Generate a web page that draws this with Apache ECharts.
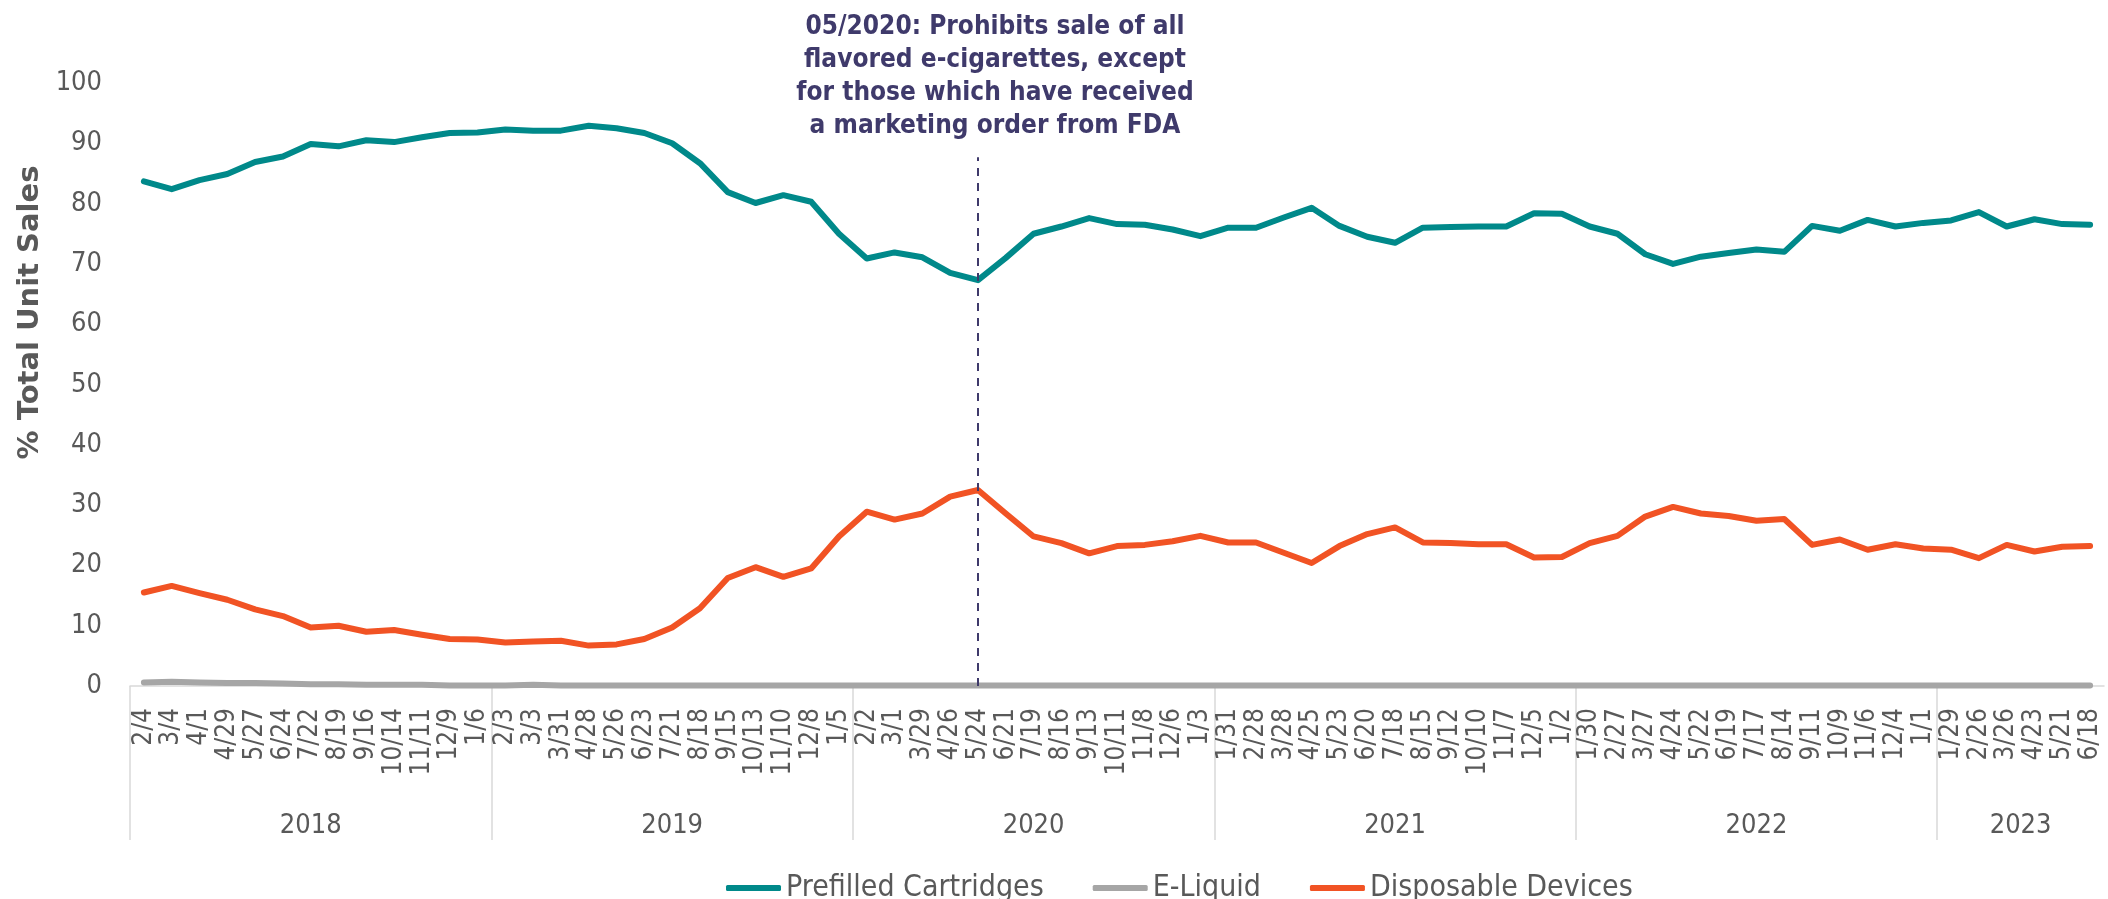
<!DOCTYPE html>
<html lang="en">
<head>
    <meta charset="UTF-8">
    <title>E-cigarette unit sales share</title>
    <style>
        html, body { margin: 0; padding: 0; background: #fff; }
        #chart { width: 2108px; height: 899px; }
    </style>
    <script src="https://cdn.jsdelivr.net/npm/echarts@6/dist/echarts.min.js"></script>
</head>
<body>
    <div id="chart"></div>
<script>
    // 4-week periods, Feb 2018 - Jun 2023
    var dates = ['2/4','3/4','4/1','4/29','5/27','6/24','7/22','8/19','9/16','10/14','11/11','12/9','1/6',
        '2/3','3/3','3/31','4/28','5/26','6/23','7/21','8/18','9/15','10/13','11/10','12/8','1/5',
        '2/2','3/1','3/29','4/26','5/24','6/21','7/19','8/16','9/13','10/11','11/8','12/6','1/3',
        '1/31','2/28','3/28','4/25','5/23','6/20','7/18','8/15','9/12','10/10','11/7','12/5','1/2',
        '1/30','2/27','3/27','4/24','5/22','6/19','7/17','8/14','9/11','10/9','11/6','12/4','1/1',
        '1/29','2/26','3/26','4/23','5/21','6/18'];
    // year groups on the lower axis and how many periods each holds
    var years = ['2018','2019','2020','2021','2022','2023'];
    var yearCounts = [13, 13, 13, 13, 13, 6];

    var prefilled = [83.7, 82.4, 83.9, 84.9, 86.9, 87.8, 89.9, 89.5, 90.5, 90.2, 91.0, 91.7, 91.8,
        92.3, 92.1, 92.1, 92.9, 92.5, 91.7, 90.0, 86.7, 81.9, 80.1, 81.4, 80.3, 75.0,
        70.9, 71.9, 71.1, 68.5, 67.3, 71.0, 75.0, 76.2, 77.6, 76.6, 76.5, 75.7, 74.6,
        76.0, 76.0, 77.7, 79.3, 76.3, 74.5, 73.5, 76.0, 76.1, 76.2, 76.2, 78.4, 78.3,
        76.2, 75.0, 71.6, 70.0, 71.2, 71.8, 72.4, 72.0, 76.3, 75.5, 77.3, 76.2, 76.8,
        77.2, 78.6, 76.2, 77.4, 76.6, 76.5];
    var eLiquid = [0.6, 0.7, 0.6, 0.5, 0.5, 0.4, 0.3, 0.3, 0.2, 0.2, 0.2, 0.1, 0.1,
        0.1, 0.2, 0.1, 0.1, 0.1, 0.1, 0.1, 0.1, 0.1, 0.1, 0.1, 0.1, 0.1,
        0.1, 0.1, 0.1, 0.1, 0.1, 0.1, 0.1, 0.1, 0.1, 0.1, 0.1, 0.1, 0.1,
        0.1, 0.1, 0.1, 0.1, 0.1, 0.1, 0.1, 0.1, 0.1, 0.1, 0.1, 0.1, 0.1,
        0.1, 0.1, 0.1, 0.1, 0.1, 0.1, 0.1, 0.1, 0.1, 0.1, 0.1, 0.1, 0.1,
        0.1, 0.1, 0.1, 0.1, 0.1, 0.1];
    var disposable = [15.5, 16.6, 15.4, 14.3, 12.7, 11.6, 9.7, 10.0, 9.0, 9.3, 8.5, 7.8, 7.7,
        7.2, 7.4, 7.5, 6.7, 6.9, 7.8, 9.7, 12.9, 17.9, 19.7, 18.1, 19.5, 24.8,
        28.9, 27.6, 28.6, 31.4, 32.5, 28.6, 24.8, 23.7, 22.0, 23.2, 23.4, 24.0, 24.9,
        23.8, 23.8, 22.1, 20.4, 23.2, 25.2, 26.3, 23.8, 23.7, 23.5, 23.5, 21.3, 21.4,
        23.7, 24.9, 28.1, 29.7, 28.6, 28.2, 27.4, 27.7, 23.4, 24.3, 22.6, 23.5, 22.8,
        22.6, 21.2, 23.4, 22.3, 23.1, 23.2];

    // policy note
    var noteDate = '5/24';
    var noteTop = 87.7;
    var noteText = '05/2020: Prohibits sale of all\nflavored e-cigarettes, except\nfor those which have received\na marketing order from FDA';

    var condensed = '"DejaVu Sans Condensed", "DejaVu Sans", sans-serif';
    var textGray = '#595959';

    // group edges and centres for the year axis
    var yearEdges = [], yearMids = [];
    var start = 0;
    for (var i = 0; i < yearCounts.length; i++) {
        yearEdges.push(start);
        yearMids.push(start + yearCounts[i] / 2);
        start += yearCounts[i];
    }

    var chart = echarts.init(document.getElementById('chart'));
    var option = {
        animation: false,
        grid: { left: 130, right: 4, top: 83, bottom: 213, outerBoundsMode: 'none' },
        legend: {
            left: 721,
            top: 868,
            icon: 'roundRect',
            itemWidth: 55,
            itemHeight: 6,
            itemGap: 49,
            textStyle: { fontSize: 30, color: textGray, fontFamily: condensed },
            data: ['Prefilled Cartridges', 'E-Liquid', 'Disposable Devices']
        },
        xAxis: [
            {
                type: 'category',
                data: dates,
                position: 'bottom',
                boundaryGap: true,
                axisLine: { lineStyle: { color: '#D9D9D9', width: 1.5 } },
                axisTick: { show: false },
                axisLabel: {
                    interval: 0,
                    rotate: 90,
                    margin: 22,
                    fontSize: 26,
                    color: textGray,
                    fontFamily: condensed
                },
                splitLine: { show: false }
            },
            {
                type: 'value',
                position: 'bottom',
                min: 0,
                max: dates.length,
                axisLine: { show: false },
                splitLine: { show: false },
                axisTick: {
                    show: true,
                    customValues: yearEdges,
                    length: 154,
                    lineStyle: { color: '#D9D9D9', width: 1.5 }
                },
                axisLabel: {
                    customValues: yearMids,
                    margin: 126,
                    fontSize: 27,
                    color: textGray,
                    fontFamily: condensed,
                    formatter: function (v) {
                        var k = yearMids.indexOf(v);
                        return k >= 0 ? years[k] : '';
                    }
                }
            }
        ],
        yAxis: {
            type: 'value',
            min: 0,
            max: 100,
            interval: 10,
            name: '% Total Unit Sales',
            nameLocation: 'middle',
            nameGap: 68,
            nameTextStyle: {
                fontSize: 29,
                fontWeight: 'bold',
                color: textGray,
                fontFamily: '"DejaVu Sans", sans-serif',
                padding: [0, 0, 0, 144]
            },
            axisLine: { show: false },
            axisTick: { show: false },
            splitLine: { show: false },
            axisLabel: { fontSize: 27, margin: 28, color: textGray, fontFamily: condensed }
        },
        series: [
            {
                name: 'Prefilled Cartridges',
                type: 'line',
                data: prefilled,
                showSymbol: false,
                color: '#00898A',
                lineStyle: { width: 6, cap: 'round', join: 'round' },
                markLine: {
                    silent: true,
                    symbol: ['none', 'none'],
                    lineStyle: { color: '#3F3A6B', type: [8, 7], width: 2 },
                    label: {
                        show: true,
                        position: 'end',
                        distance: 14,
                        formatter: noteText,
                        fontSize: 26,
                        fontWeight: 'bold',
                        lineHeight: 33,
                        align: 'center',
                        padding: [0, 0, 0, 34],
                        color: '#3F3A6B',
                        fontFamily: condensed
                    },
                    data: [[{ coord: [noteDate, 0] }, { coord: [noteDate, noteTop] }]]
                }
            },
            {
                name: 'E-Liquid',
                type: 'line',
                data: eLiquid,
                showSymbol: false,
                color: '#A6A6A6',
                lineStyle: { width: 6, cap: 'round', join: 'round' }
            },
            {
                name: 'Disposable Devices',
                type: 'line',
                data: disposable,
                showSymbol: false,
                color: '#F15324',
                lineStyle: { width: 6, cap: 'round', join: 'round' }
            }
        ]
    };
    chart.setOption(option);
</script>
</body>
</html>
